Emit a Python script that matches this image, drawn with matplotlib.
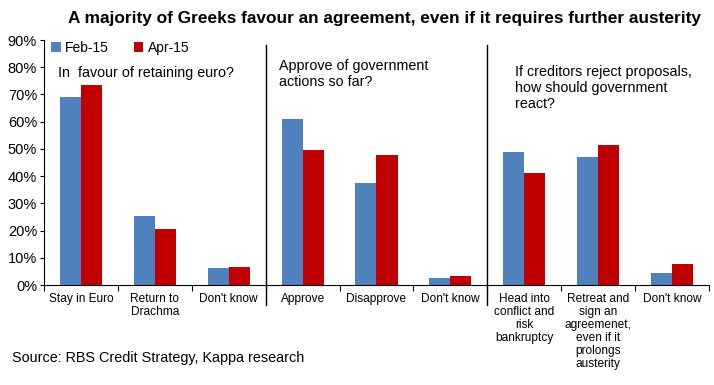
import matplotlib.pyplot as plt
import numpy as np

plt.rcParams["font.family"] = ["Liberation Sans", "DejaVu Sans"]

CATEGORIES = [
    "Stay in Euro", "Return to\nDrachma", "Don't know",
    "Approve", "Disapprove", "Don't know",
    "Head into\nconflict and\nrisk\nbankruptcy",
    "Retreat and\nsign an\nagreemenet,\neven if it\nprolongs\nausterity",
    "Don't know",
]
FEB_15 = [68.9, 25.2, 6.3, 61.1, 37.3, 2.4, 48.9, 47.0, 4.3]
APR_15 = [73.3, 20.4, 6.8, 49.6, 47.9, 3.4, 41.1, 51.5, 7.7]
QUESTIONS = [
    "In  favour of retaining euro?",
    "Approve of government\nactions so far?",
    "If creditors reject proposals,\nhow should government\nreact?",
]

BLUE = "#4F81BD"
RED = "#C00000"

fig = plt.figure(figsize=(7.14, 3.85), dpi=100)
ax = fig.add_axes([0.0616, 0.2597, 0.9314, 0.6364])

x = np.arange(len(CATEGORIES))
w = 0.285
ax.bar(x - w / 2, FEB_15, width=w, color=BLUE, label="Feb-15")
ax.bar(x + w / 2, APR_15, width=w, color=RED, label="Apr-15")

ax.set_xlim(-0.5, len(CATEGORIES) - 0.5)
ax.set_ylim(0, 90)
ax.set_yticks(range(0, 91, 10))
ax.set_yticklabels([f"{v}%" for v in range(0, 91, 10)], fontsize=10.5)

# category labels at centres, tick marks at the boundaries
ax.set_xticks(np.arange(-0.5, len(CATEGORIES), 1.0))
ax.set_xticklabels([])
ax.tick_params(axis="x", length=4, direction="out")
ax.tick_params(axis="y", length=3, direction="out", pad=2)
for xi, lab in zip(x, CATEGORIES):
    ax.text(xi, -2.8, lab, ha="center", va="top", fontsize=8.6,
            linespacing=1.12)

ax.spines.right.set_visible(False)
ax.spines.top.set_visible(False)

# group dividers
for xd in (2.5, 5.5):
    ax.axvline(xd, ymin=-0.08, ymax=0.98, color="k", lw=1, clip_on=False)

# question texts
ax.text(-0.31, 78, QUESTIONS[0], ha="left", va="center", fontsize=10.3)
ax.text(2.68, 83, QUESTIONS[1], ha="left", va="top", fontsize=10.3,
        linespacing=1.2)
ax.text(5.87, 81, QUESTIONS[2], ha="left", va="top", fontsize=10.3,
        linespacing=1.2)

ax.legend(loc="upper left", bbox_to_anchor=(0.0, 1.025), ncol=2,
          frameon=False, fontsize=10, handlelength=0.7, handleheight=0.7,
          handletextpad=0.3, columnspacing=1.8, borderaxespad=0.1)

fig.text(0.538, 0.953, "A majority of Greeks favour an agreement, even if it requires further austerity",
         ha="center", va="center", fontsize=12.4, fontweight="bold")
fig.text(0.017, 0.07, "Source: RBS Credit Strategy, Kappa research",
         ha="left", va="center", fontsize=10.4)

fig.savefig("out.png", dpi=100)
